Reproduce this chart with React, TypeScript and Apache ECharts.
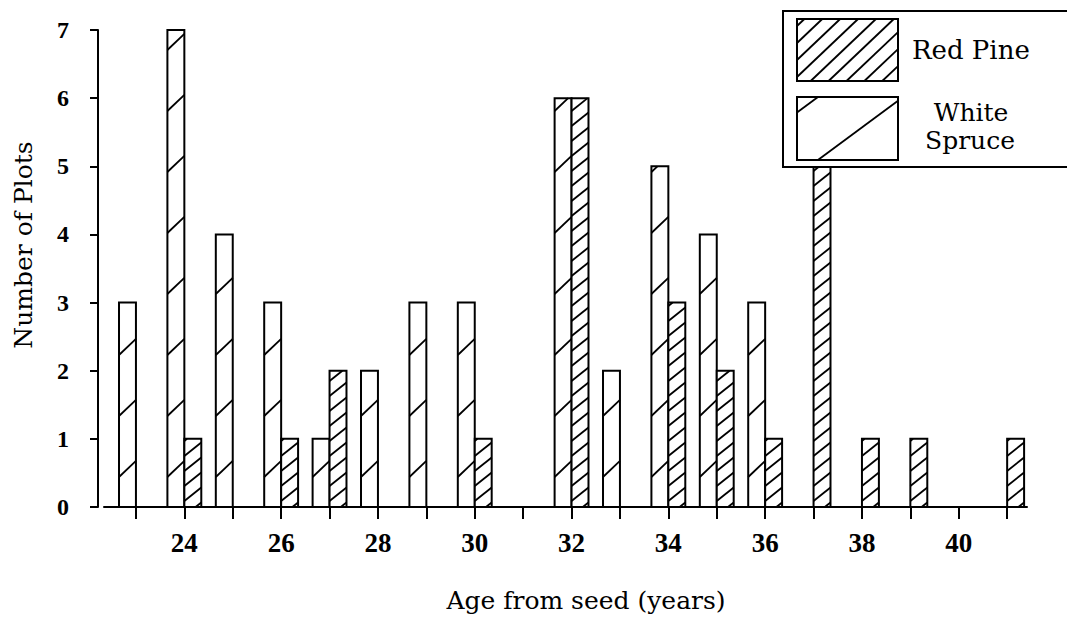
import React, { useEffect, useRef } from "react";
import * as echarts from "echarts";

// ---------- data ----------
const ages = [23, 24, 25, 26, 27, 28, 29, 30, 31, 32, 33, 34, 35, 36, 37, 38, 39, 40, 41];
const whiteSpruce = [3, 7, 4, 3, 1, 2, 3, 3, 0, 6, 2, 5, 4, 3, 0, 0, 0, 0, 0];
const redPine = [0, 1, 0, 1, 2, 0, 0, 1, 0, 6, 0, 3, 2, 1, 5, 1, 1, 0, 1];
const xLabelValues = [24, 26, 28, 30, 32, 34, 36, 38, 40];
const seriesNames = ["Red Pine", "White Spruce"];

// ---------- styles ----------
const SERIF = "'DejaVu Serif', 'Liberation Serif', serif";
const TICKFONT = "'Liberation Serif', 'DejaVu Serif', serif";
const BAR_FRAC = 0.35;

type Hatch = { slope: number; spacing: number; phase: number };
const WS_HATCH: Hatch = { slope: 0.95, spacing: 61, phase: 30 };
const RP_HATCH: Hatch = { slope: 0.8, spacing: 15, phase: 6 };

function hatchLines(x0: number, yTop: number, w: number, h: number, hs: Hatch) {
  const segs: number[][] = [];
  const { slope, spacing, phase } = hs;
  let b = phase - Math.ceil((phase + slope * w) / spacing) * spacing;
  for (; b <= h; b += spacing) {
    const uA = Math.max(0, -b / slope);
    const uB = Math.min(w, (h - b) / slope);
    if (uB - uA > 0.8) {
      segs.push([x0 + uA, yTop + h - (slope * uA + b), x0 + uB, yTop + h - (slope * uB + b)]);
    }
  }
  return segs;
}

function hatchedRect(x0: number, yTop: number, w: number, h: number, hs: Hatch, z = 0) {
  const segs = hatchLines(x0, yTop, w, h, hs);
  return [
    { type: "rect", z, shape: { x: x0, y: yTop, width: w, height: h }, style: { fill: "#fff", stroke: "#000", lineWidth: 2 } },
    ...segs.map((s) => ({
      type: "line",
      z: z + 1,
      shape: { x1: s[0], y1: s[1], x2: s[2], y2: s[3] },
      style: { stroke: "#000", lineWidth: 1.8 },
    })),
  ];
}

function makeRender(side: "left" | "right", hs: Hatch) {
  return (params: any, api: any) => {
    const age = api.value(0);
    const val = api.value(1);
    if (!val) return { type: "group", children: [] };
    const base = api.coord([age, 0]);
    const top = api.coord([age, val]);
    const w = api.size([1, 0])[0] * BAR_FRAC;
    const x0 = side === "left" ? base[0] - w : base[0];
    const h = base[1] - top[1];
    const segs = hatchLines(x0, top[1], w, h, hs);
    return {
      type: "group",
      children: [
        { type: "rect", shape: { x: x0, y: top[1], width: w, height: h }, style: { fill: "#fff", stroke: "#000", lineWidth: 2 } },
        ...segs.map((s) => ({
          type: "line",
          shape: { x1: s[0], y1: s[1], x2: s[2], y2: s[3] },
          style: { stroke: "#000", lineWidth: 1.8 },
        })),
      ],
    };
  };
}

export default function App() {
  const ref = useRef<HTMLDivElement>(null);
  useEffect(() => {
    if (!ref.current) return;
    const chart = echarts.init(ref.current, null, { renderer: "svg" });

    const legendSwatchRP = hatchedRect(797, 19, 101, 62, { slope: 0.95, spacing: 17, phase: 4 }, 101);
    const legendSwatchWS = hatchedRect(797, 97, 101, 63, { slope: 0.74, spacing: 63, phase: -15.5 }, 101);

    chart.setOption({
      animation: false,
      backgroundColor: "#fff",
      grid: { left: 104, right: 40, top: 30, bottom: 116, containLabel: false },
      xAxis: {
        type: "value",
        min: 22.34,
        max: 41.41,
        splitLine: { show: false },
        axisLine: { show: true, onZero: false, lineStyle: { color: "#000", width: 2 } },
        axisTick: { show: true, customValues: ages, length: 12, lineStyle: { color: "#000", width: 2 } },
        axisLabel: {
          customValues: xLabelValues,
          color: "#000",
          fontFamily: TICKFONT,
          fontWeight: "bold",
          fontSize: 27,
          margin: 22,
        },
      },
      yAxis: {
        type: "value",
        min: 0,
        max: 7,
        interval: 1,
        offset: 6,
        splitLine: { show: false },
        axisLine: { show: true, lineStyle: { color: "#000", width: 2 } },
        axisTick: { show: true, length: 8, lineStyle: { color: "#000", width: 2 } },
        axisLabel: { color: "#000", fontFamily: TICKFONT, fontWeight: "bold", fontSize: 24, margin: 29 },
      },
      series: [
        {
          name: seriesNames[1],
          type: "custom",
          renderItem: makeRender("left", WS_HATCH),
          encode: { x: 0, y: 1 },
          data: ages.map((a, i) => [a, whiteSpruce[i]]),
          clip: false,
        },
        {
          name: seriesNames[0],
          type: "custom",
          renderItem: makeRender("right", RP_HATCH),
          encode: { x: 0, y: 1 },
          data: ages.map((a, i) => [a, redPine[i]]),
          clip: false,
        },
      ],
      graphic: [
        {
          type: "text",
          x: 23,
          y: 245,
          rotation: Math.PI / 2,
          style: {
            text: "Number of Plots",
            fill: "#000",
            font: `25px ${SERIF}`,
            align: "center",
            verticalAlign: "middle",
          },
        },
        {
          type: "text",
          x: 586,
          y: 600,
          style: {
            text: "Age from seed (years)",
            fill: "#000",
            font: `25px ${SERIF}`,
            align: "center",
            verticalAlign: "middle",
          },
        },
        {
          type: "rect",
          z: 100,
          shape: { x: 783, y: 11, width: 300, height: 156 },
          style: { fill: "#fff", stroke: "#000", lineWidth: 2 },
        },
        ...legendSwatchRP,
        ...legendSwatchWS,
        {
          type: "text",
          z: 102,
          x: 912,
          y: 50,
          style: { text: seriesNames[0], fill: "#000", font: `26px ${SERIF}`, align: "left", verticalAlign: "middle" },
        },
        {
          type: "text",
          z: 102,
          x: 971,
          y: 112,
          style: { text: "White", fill: "#000", font: `25px ${SERIF}`, align: "center", verticalAlign: "middle" },
        },
        {
          type: "text",
          z: 102,
          x: 970,
          y: 140,
          style: { text: "Spruce", fill: "#000", font: `25px ${SERIF}`, align: "center", verticalAlign: "middle" },
        },
      ],
    });
    return () => chart.dispose();
  }, []);
  return <div ref={ref} style={{ position: "fixed", left: 0, top: 0, width: 1067, height: 623 }} />;
}
